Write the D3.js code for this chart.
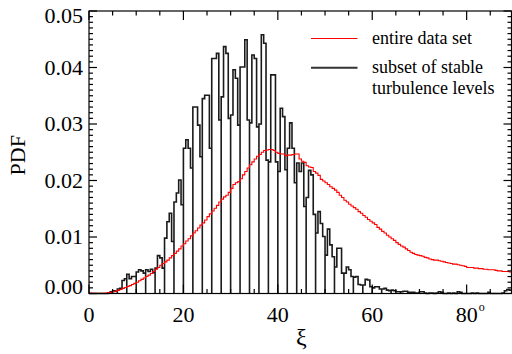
<!DOCTYPE html>
<html>
<head>
<meta charset="utf-8">
<script src="https://cdn.jsdelivr.net/npm/d3@7"></script>
</head>
<body style="margin:0">
<svg id="chart" width="512" height="354" font-family="Liberation Serif"></svg>
<script>
// PDF values in units of 0.001, histogram bins 0.5 deg wide, starting at 0
var binWidth = 0.5;

// entire data set (red)
var entirePDF = [
  0.1, 0.05, 0.05, 0.05, 0.05, 0.05, 0.05, 0.1, 0.15, 0.2,
  0.3, 0.4, 0.55, 0.7, 0.9, 1.05, 1.25, 1.4, 1.6, 1.8,
  2.0, 2.25, 2.5, 2.75, 3.0, 3.25, 3.55, 3.9, 4.3, 4.6,
  5.0, 5.3, 5.6, 5.9, 6.3, 6.7, 7.1, 7.5, 7.9, 8.4,
  8.8, 9.3, 9.7, 10.2, 10.7, 11.1, 11.6, 12.1, 12.5, 13.0,
  13.6, 14.1, 14.6, 15.1, 15.6, 16.2, 16.7, 17.1, 17.4, 17.9,
  18.6, 19.3, 19.6, 19.8, 20.3, 21.0, 21.6, 22.2, 22.8, 23.3,
  23.8, 24.3, 24.6, 25.0, 25.3, 25.4, 25.5, 25.5, 25.3, 25.0,
  24.8, 24.7, 24.7, 24.4, 24.5, 24.5, 24.6, 24.7, 24.7, 23.8,
  23.4, 23.2, 22.6, 22.4, 22.3, 21.6, 21.3, 20.9, 20.2, 19.9,
  19.6, 19.3, 18.9, 18.6, 18.3, 17.9, 17.4, 17.0, 16.5, 16.2,
  15.8, 15.5, 15.2, 14.9, 14.5, 14.2, 13.8, 13.5, 13.1, 12.8,
  12.5, 12.2, 11.7, 11.4, 11.0, 10.7, 10.3, 10.0, 9.7, 9.4,
  9.0, 8.7, 8.4, 8.2, 7.9, 7.6, 7.3, 7.1, 6.9, 6.8,
  6.7, 6.6, 6.4, 6.3, 6.1, 6.0, 5.9, 5.9, 5.8, 5.7,
  5.6, 5.5, 5.4, 5.3, 5.2, 5.2, 5.1, 5.0, 4.9, 4.8,
  4.6, 4.6, 4.6, 4.5, 4.5, 4.4, 4.4, 4.3, 4.3, 4.2,
  4.2, 4.2, 4.1, 4.0, 4.0, 3.9, 3.9, 3.9, 3.8
];

// subset of stable turbulence levels (black), 4 bins per 2-deg period;
// the count drops to zero at every even degree
var subsetPDF = [
  [0, 0, 0, 0],            // 0
  [0, 0, 0, 0],            // 2
  [0.1, 0.3, 0.5, 0.4],    // 4
  [0.8, 0.9, 2.3, 2.6],    // 6
  [3.4, 2.6, 3.0, 3.0],    // 8
  [3.8, 4.2, 4.0, 3.6],    // 10
  [4.2, 3.9, 4.3, 3.7],    // 12
  [4.5, 6.7, 6.3, 4.5],    // 14
  [9.8, 12.7, 14.2, 9.2],  // 16
  [16.2, 17.8, 20.1, 15.7],// 18
  [25.7, 27.2, 25.7, 22.2],// 20
  [33.0, 33.0, 29.8, 24.2],// 22
  [34.5, 35.1, 35.1, 25.7],// 24
  [41.6, 41.6, 42.5, 30.7],// 26
  [34.8, 43.7, 42.5, 31.0],// 28
  [31.6, 39.6, 38.1, 29.8],// 30
  [40.1, 40.1, 44.9, 30.7],// 32
  [30.2, 42.2, 41.6, 29.5],// 34
  [30.0, 45.8, 44.3, 23.6],// 36
  [23.3, 38.7, 38.7, 23.3],// 38
  [21.6, 32.8, 31.3, 21.9],// 40
  [25.7, 30.2, 25.7, 19.6],// 42
  [23.1, 21.6, 23.1, 15.4],// 44
  [17.0, 21.8, 21.0, 14.0],// 46
  [10.7, 14.5, 12.4, 10.1],// 48
  [6.8, 11.4, 8.6, 6.5],   // 50
  [4.7, 8.0, 8.0, 3.6],    // 52
  [3.6, 4.7, 4.2, 3.0],    // 54
  [2.9, 3.0, 1.6, 1.5],    // 56
  [1.5, 2.5, 2.4, 1.2],    // 58
  [1.0, 1.2, 1.2, 0.8],    // 60
  [0.8, 0.9, 0.6, 0.5],    // 62
  [0.6, 0.5, 0.3, 0.3],    // 64
  [0.3, 0.4, 0.4, 0.2],    // 66
  [0.2, 0.2, 0.1, 0.1],    // 68
  [0.3, 0.3, 0.1, 0],      // 70
  [0.1, 0.1, 0, 0.1],      // 72
  [0.3, 0.2, 0, 0],        // 74
  [0.1, 0, 0.1, 0],        // 76
  [0.3, 0.2, 0, 0],        // 78
  [0, 0, 0.1, 0],          // 80
  [0.1, 0, 0, 0],          // 82
  [0, 0.2, 0, 0],          // 84
  [0, 0, 0, 0.1],          // 86
  [0.5, 0.7, 0.6]          // 88
];

var xMajor = [0, 20, 40, 60, 80];
var xLabels = ["0", "20", "40", "60", "80"];
var yMajor = [0, 0.01, 0.02, 0.03, 0.04, 0.05];
var yLabels = ["0.00", "0.01", "0.02", "0.03", "0.04", "0.05"];
var legendNames = ["entire data set", "subset of stable", "turbulence levels"];
var serifFont = "'Liberation Serif', serif";

var svg = d3.select("#chart");
var x = d3.scaleLinear().domain([0, 89.5]).range([89, 511.5]);
var y = d3.scaleLinear().domain([0, 0.05]).range([293.5, 11]);
var plotL = x.range()[0], plotR = x.range()[1];
var plotT = y.range()[1], plotB = y.range()[0];

function addText(px, py, str, size) {
  return svg.append("text").attr("x", px).attr("y", py)
    .style("font-family", serifFont).style("font-size", size + "px").style("fill", "#000")
    .text(str);
}

// red histogram points
var redPts = [];
entirePDF.forEach(function(v, i) {
  redPts.push([i * binWidth, v / 1000]);
  redPts.push([(i + 1) * binWidth, v / 1000]);
});

// black histogram points with the zero dips at even degrees
var blackPts = [[0, 0]];
subsetPDF.forEach(function(row, p) {
  var x0 = p * 2;
  blackPts.push([x0, 0]);
  row.forEach(function(v, j) {
    blackPts.push([x0 + j * binWidth, v / 1000]);
    blackPts.push([x0 + (j + 1) * binWidth, v / 1000]);
  });
});

var line = d3.line().x(function(d) { return x(d[0]); }).y(function(d) { return y(d[1]); });

svg.append("path").attr("d", line(blackPts))
  .attr("fill", "none").attr("stroke", "#1a1a1a").attr("stroke-width", 1.6);
svg.append("path").attr("d", line(redPts))
  .attr("fill", "none").attr("stroke", "#ff0000").attr("stroke-width", 1.1);

// frame
svg.append("rect").attr("x", plotL).attr("y", plotT)
  .attr("width", plotR - plotL).attr("height", plotB - plotT)
  .attr("fill", "none").attr("stroke", "#000").attr("stroke-width", 1.2);

// x ticks (inward, top and bottom)
var xMinor = d3.range(0, 90, 5);
var gx = svg.append("g").attr("stroke", "#000").attr("stroke-width", 1.2);
xMinor.forEach(function(t) {
  var len = xMajor.indexOf(t) >= 0 ? 9 : 4.5;
  gx.append("line").attr("x1", x(t)).attr("x2", x(t)).attr("y1", plotB).attr("y2", plotB - len);
  gx.append("line").attr("x1", x(t)).attr("x2", x(t)).attr("y1", plotT).attr("y2", plotT + len);
});

// y ticks (inward, left and right)
var yMinor = d3.range(0, 0.0505, 0.001);
var gy = svg.append("g").attr("stroke", "#000").attr("stroke-width", 1.2);
yMinor.forEach(function(t, i) {
  var len = i % 10 === 0 ? 8 : 4;
  gy.append("line").attr("x1", plotL).attr("x2", plotL + len).attr("y1", y(t)).attr("y2", y(t));
  gy.append("line").attr("x1", plotR).attr("x2", plotR - len).attr("y1", y(t)).attr("y2", y(t));
});

// tick labels
xMajor.forEach(function(t, i) {
  addText(x(t), 322, xLabels[i], 22).attr("text-anchor", "middle");
});
addText(x(80) + 12, 311, "o", 12);

yMajor.forEach(function(t, i) {
  var yy = y(t) + 7;
  if (i === 0) yy = y(t) + 0.5;
  if (i === yMajor.length - 1) yy = y(t) + 12;
  addText(83, yy, yLabels[i], 22).attr("text-anchor", "end");
});

// axis titles
var midY = (plotT + plotB) / 2 + 3;
addText((plotL + plotR) / 2 + 1, 345, "ξ", 24).attr("text-anchor", "middle");
addText(25, midY, "PDF", 22).attr("text-anchor", "middle")
  .attr("transform", "rotate(-90,25," + midY + ")");

// legend
svg.append("line").attr("x1", 311).attr("x2", 357.5).attr("y1", 38.5).attr("y2", 38.5)
  .attr("stroke", "#ff0000").attr("stroke-width", 1.1);
svg.append("line").attr("x1", 311).attr("x2", 357.5).attr("y1", 67.7).attr("y2", 67.7)
  .attr("stroke", "#333").attr("stroke-width", 2);
var legendY = [44, 73.3, 94.3];
legendNames.forEach(function(n, i) {
  addText(372, legendY[i], n, 18);
});
</script>
</body>
</html>
